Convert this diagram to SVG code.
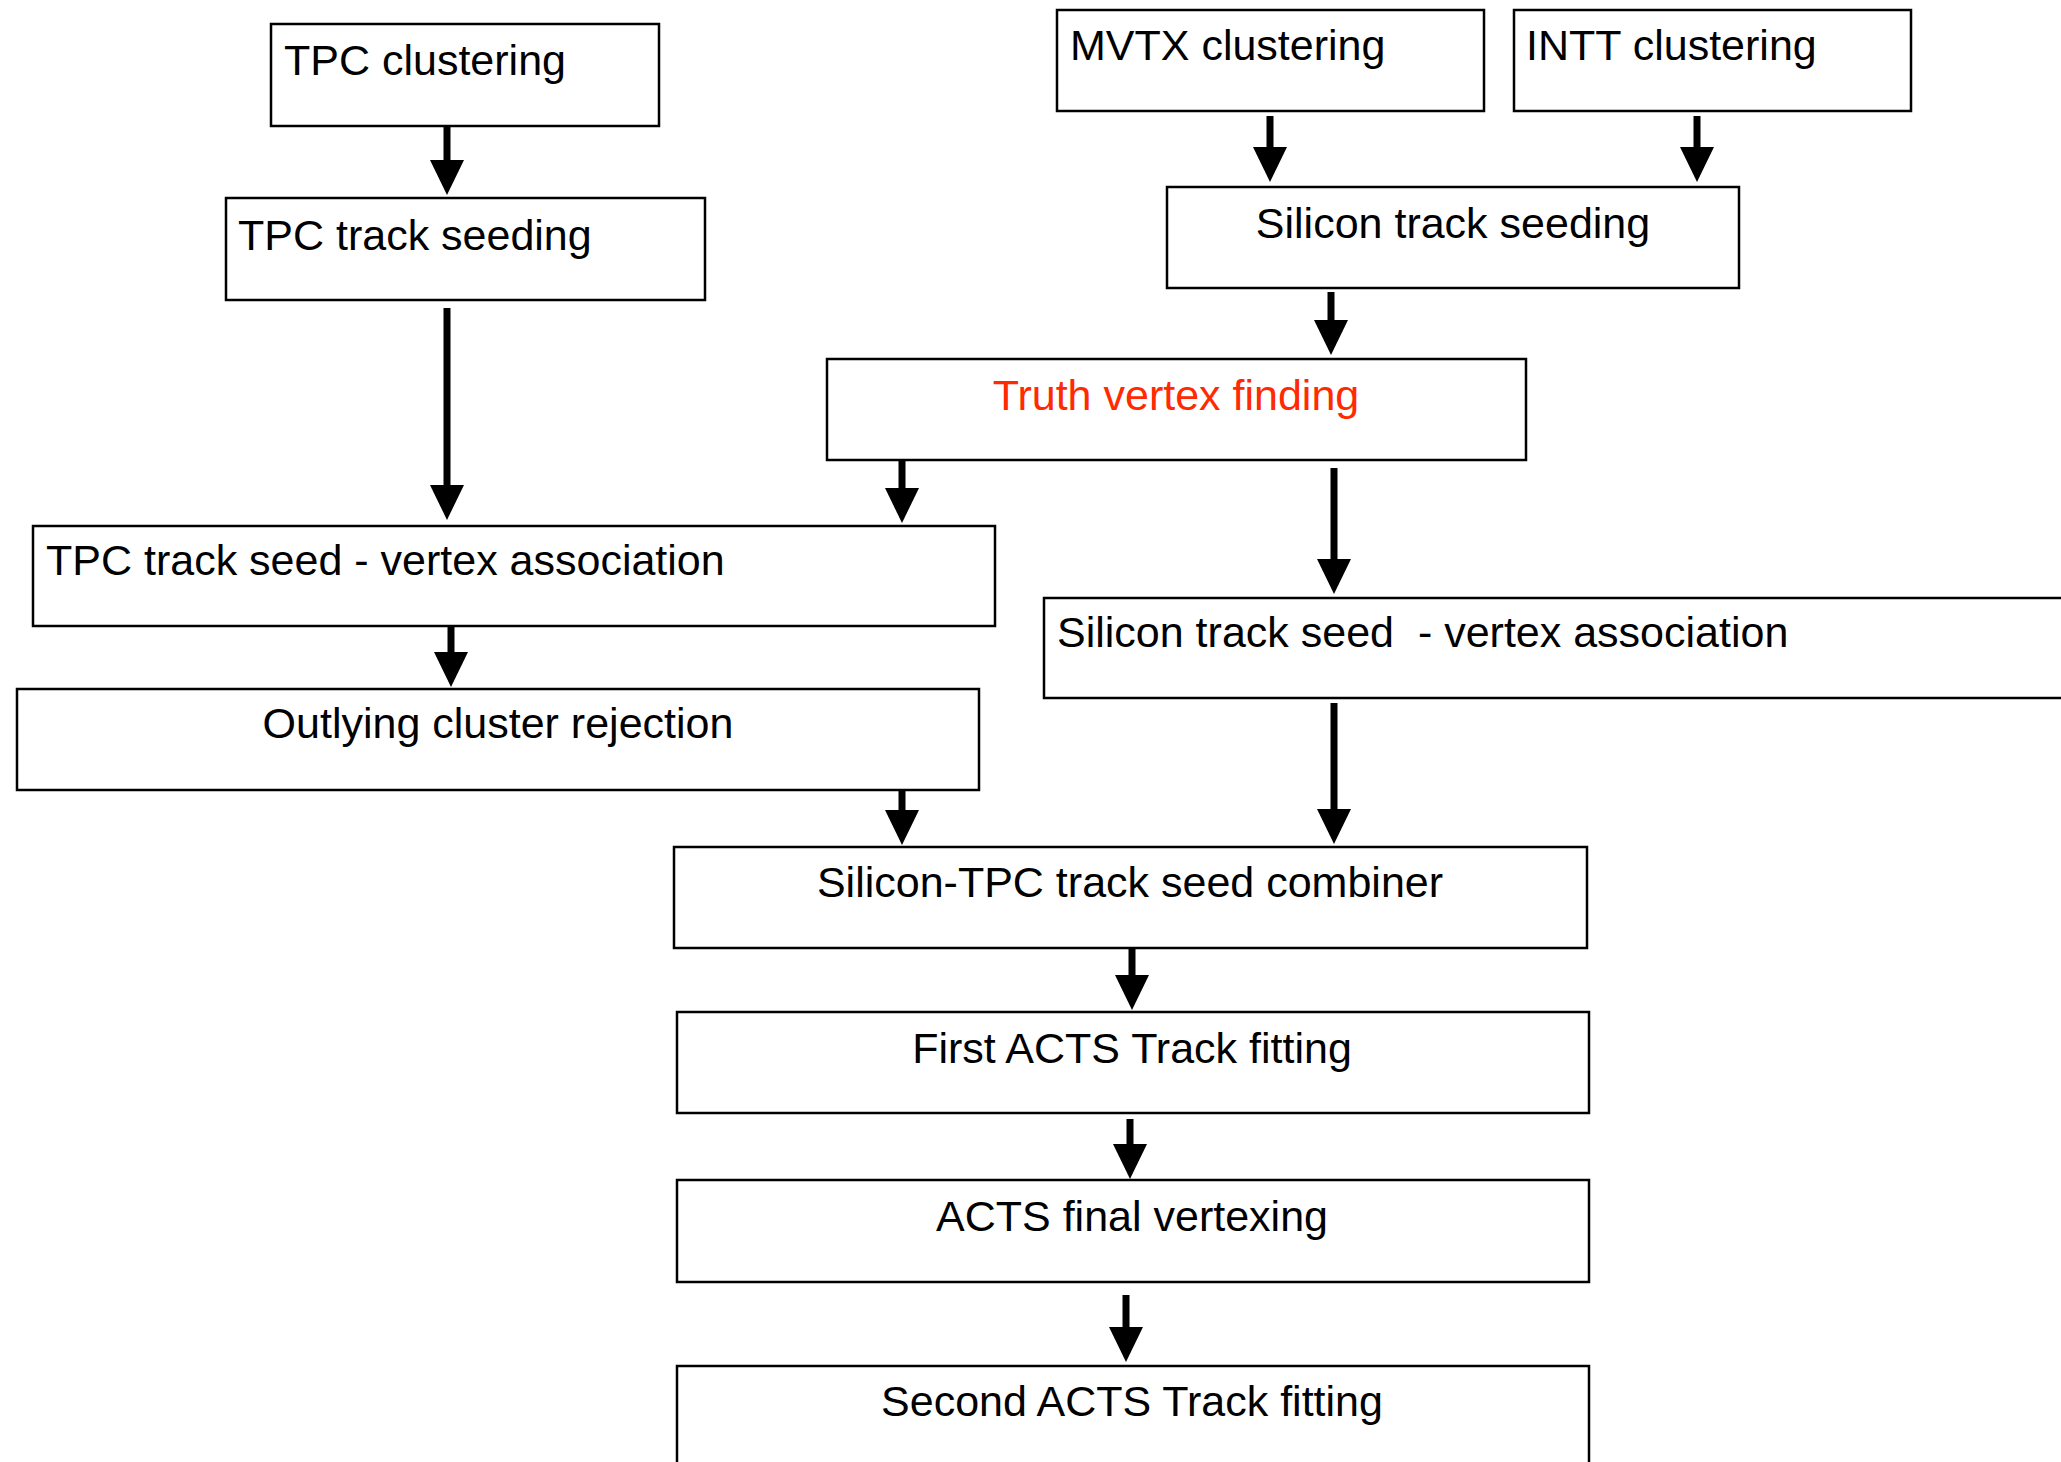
<svg xmlns="http://www.w3.org/2000/svg" width="2061" height="1462" viewBox="0 0 2061 1462">
<style>
.box{fill:#fff;stroke:#000;stroke-width:2.5}
.t{font-family:"Liberation Sans",Arial,Helvetica,sans-serif;font-size:43px;fill:#000}
.c{text-anchor:middle}
.red{fill:#ff2a00}
.arr{stroke:#000;stroke-width:7;fill:none;marker-end:url(#ah)}
</style>
<defs>
<marker id="ah" viewBox="0 0 35 34" markerWidth="35" markerHeight="34" markerUnits="userSpaceOnUse" refX="2" refY="17" orient="auto">
<path d="M0,0 L35,17 L0,34 Z" fill="#000"/>
</marker>
</defs>
<rect width="2061" height="1462" fill="#fff"/>
<g id="connectors">
<line class="arr" x1="447" y1="126" x2="447" y2="162"/>
<line class="arr" x1="447" y1="308" x2="447" y2="487"/>
<line class="arr" x1="1270" y1="116" x2="1270" y2="149"/>
<line class="arr" x1="1697" y1="116" x2="1697" y2="149"/>
<line class="arr" x1="1331" y1="292" x2="1331" y2="322"/>
<line class="arr" x1="902" y1="460" x2="902" y2="490"/>
<line class="arr" x1="1334" y1="468" x2="1334" y2="561"/>
<line class="arr" x1="451" y1="626" x2="451" y2="654"/>
<line class="arr" x1="902" y1="786" x2="902" y2="812"/>
<line class="arr" x1="1334" y1="703" x2="1334" y2="811"/>
<line class="arr" x1="1132" y1="948" x2="1132" y2="977"/>
<line class="arr" x1="1130" y1="1119" x2="1130" y2="1146"/>
<line class="arr" x1="1126" y1="1295" x2="1126" y2="1329"/>
</g>
<g id="tpc-clustering"><rect class="box" x="271" y="24" width="388" height="102"/><text class="t" x="284" y="75">TPC clustering</text></g>
<g id="tpc-track-seeding"><rect class="box" x="226" y="198" width="479" height="102"/><text class="t" x="238" y="250">TPC track seeding</text></g>
<g id="mvtx-clustering"><rect class="box" x="1057" y="10" width="427" height="101"/><text class="t" x="1070" y="60">MVTX clustering</text></g>
<g id="intt-clustering"><rect class="box" x="1514" y="10" width="397" height="101"/><text class="t" x="1526" y="60">INTT clustering</text></g>
<g id="silicon-track-seeding"><rect class="box" x="1167" y="187" width="572" height="101"/><text class="t c" x="1453" y="238">Silicon track seeding</text></g>
<g id="truth-vertex-finding"><rect class="box" x="827" y="359" width="699" height="101"/><text class="t c red" x="1176" y="410">Truth vertex finding</text></g>
<g id="tpc-seed-vertex"><rect class="box" x="33" y="526" width="962" height="100"/><text class="t" x="46" y="575">TPC track seed - vertex association</text></g>
<g id="outlying-cluster-rejection"><rect class="box" x="17" y="689" width="962" height="101"/><text class="t c" x="498" y="738">Outlying cluster rejection</text></g>
<g id="silicon-seed-vertex"><rect class="box" x="1044" y="598" width="1030" height="100"/><text class="t" x="1057" y="647" xml:space="preserve">Silicon track seed  - vertex association</text></g>
<g id="seed-combiner"><rect class="box" x="674" y="847" width="913" height="101"/><text class="t c" x="1130" y="897">Silicon-TPC track seed combiner</text></g>
<g id="first-acts-fit"><rect class="box" x="677" y="1012" width="912" height="101"/><text class="t c" x="1132" y="1063">First ACTS Track fitting</text></g>
<g id="acts-final-vertexing"><rect class="box" x="677" y="1180" width="912" height="102"/><text class="t c" x="1132" y="1231">ACTS final vertexing</text></g>
<g id="second-acts-fit"><rect class="box" x="677" y="1366" width="912" height="110"/><text class="t c" x="1132" y="1416">Second ACTS Track fitting</text></g>
</svg>
